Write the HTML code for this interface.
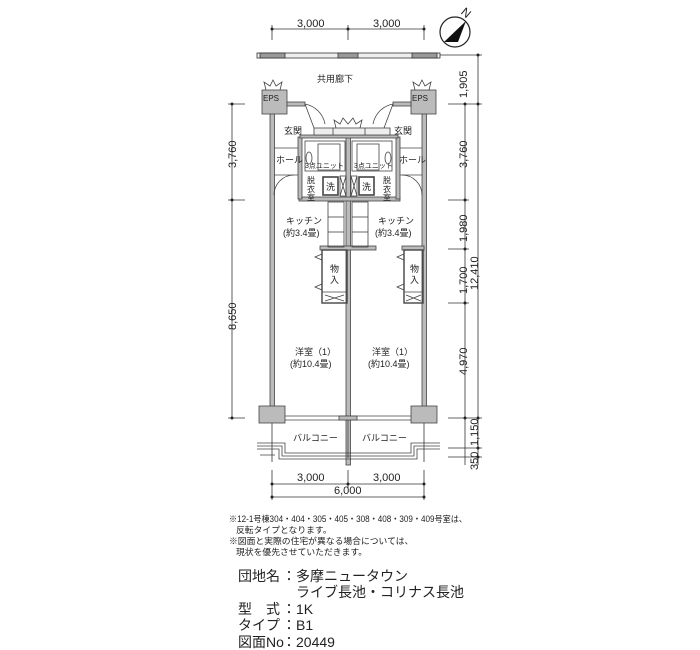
<!DOCTYPE html>
<html><head><meta charset="utf-8"><style>
html,body{margin:0;padding:0;background:#fff;}
svg{display:block;}
text{font-family:"Liberation Sans","Noto Sans CJK JP",sans-serif;fill:#222;}
</style></head><body>
<svg width="700" height="650" viewBox="0 0 700 650" xmlns="http://www.w3.org/2000/svg">
<g stroke="#333" stroke-width="0.8" fill="none">
<line x1="272" y1="29" x2="424" y2="29"/>
<line x1="272" y1="25" x2="272" y2="40"/><line x1="348" y1="25" x2="348" y2="40"/><line x1="424" y1="25" x2="424" y2="40"/>
<rect x="257" y="53" width="183" height="5" fill="#eee"/>
<rect x="260" y="53" width="25" height="5" fill="#999"/><rect x="338" y="53" width="20" height="5" fill="#999"/><rect x="412" y="53" width="25" height="5" fill="#999"/>
<line x1="478" y1="55" x2="478" y2="465"/>
<line x1="465" y1="104" x2="465" y2="465"/>
<line x1="440" y1="55" x2="482" y2="55"/>
<line x1="448" y1="104" x2="482" y2="104"/>
<line x1="448" y1="200" x2="469" y2="200"/>
<line x1="448" y1="249" x2="469" y2="249"/>
<line x1="448" y1="303" x2="469" y2="303"/>
<line x1="448" y1="418" x2="482" y2="418"/>
<line x1="448" y1="448" x2="482" y2="448"/>
<line x1="448" y1="457" x2="482" y2="457"/>
<line x1="232" y1="104" x2="232" y2="418"/>
<line x1="228" y1="104" x2="245" y2="104"/><line x1="228" y1="200" x2="245" y2="200"/><line x1="228" y1="418" x2="245" y2="418"/>
<line x1="272" y1="484" x2="424" y2="484"/><line x1="272" y1="497" x2="424" y2="497"/>
<line x1="272" y1="470" x2="272" y2="500"/><line x1="348" y1="470" x2="348" y2="488"/><line x1="424" y1="470" x2="424" y2="500"/>
<line x1="272" y1="423" x2="272" y2="462"/><line x1="424" y1="423" x2="424" y2="462"/>
</g>
<g fill="#222">
<circle cx="232" cy="104" r="1.5"/><circle cx="232" cy="200" r="1.5"/><circle cx="232" cy="418" r="1.5"/>
<circle cx="465" cy="104" r="1.5"/><circle cx="465" cy="200" r="1.5"/><circle cx="465" cy="249" r="1.5"/><circle cx="465" cy="303" r="1.5"/><circle cx="465" cy="418" r="1.5"/><circle cx="478" cy="55" r="1.5"/><circle cx="478" cy="104" r="1.5"/><circle cx="478" cy="418" r="1.5"/><circle cx="478" cy="448" r="1.5"/><circle cx="478" cy="457" r="1.5"/>
<circle cx="272" cy="29" r="1.5"/><circle cx="348" cy="29" r="1.5"/><circle cx="424" cy="29" r="1.5"/>
<circle cx="272" cy="484" r="1.5"/><circle cx="348" cy="484" r="1.5"/><circle cx="424" cy="484" r="1.5"/><circle cx="272" cy="497" r="1.5"/><circle cx="424" cy="497" r="1.5"/>
</g>
<circle cx="455" cy="32" r="15" fill="#fff" stroke="#222" stroke-width="1.2"/>
<path d="M444 42 L466 21 L458 42 Z" fill="#111"/>
<text x="462" y="16" font-size="12" transform="rotate(40 465 12)">N</text>
<g fill="#bbb" stroke="#444" stroke-width="0.8">
<rect x="270" y="112" width="4.5" height="295"/>
<rect x="346" y="135" width="4.5" height="330"/>
<rect x="422" y="112" width="4.5" height="295"/>
<rect x="262" y="90" width="25" height="24"/>
<rect x="411" y="90" width="25" height="24"/>
<rect x="287" y="102" width="18" height="4"/>
<rect x="393" y="102" width="18" height="4"/>
<rect x="259" y="406" width="26" height="17"/>
<rect x="411" y="406" width="26" height="17"/>
<rect x="299" y="197" width="101" height="4"/>
<rect x="320" y="246" width="56" height="4"/>
<rect x="402" y="246" width="22" height="4"/>
<rect x="298" y="137" width="4" height="62"/>
<rect x="396" y="137" width="4" height="62"/>
<rect x="300" y="135" width="98" height="3"/>
</g>
<g fill="none" stroke="#444" stroke-width="0.8">
<rect x="314" y="128" width="76" height="7" fill="#eee"/>
<line x1="333" y1="128" x2="333" y2="135"/><line x1="365" y1="128" x2="365" y2="135"/>
<rect x="305" y="141" width="40" height="30"/><rect x="352" y="141" width="40" height="30"/>
<rect x="318" y="144" width="22" height="26"/><rect x="357" y="144" width="22" height="26"/>
<ellipse cx="309" cy="158" rx="3" ry="6"/><ellipse cx="388" cy="158" rx="3" ry="6"/>
<rect x="323" y="177" width="15" height="18" stroke-width="1.6"/><rect x="359" y="177" width="15" height="18" stroke-width="1.6"/>
<rect x="340" y="176" width="6" height="20"/><rect x="351" y="176" width="6" height="20"/>
<path d="M340 176 L346 196 M346 176 L340 196 M351 176 L357 196 M357 176 L351 196"/>
<line x1="274" y1="148" x2="298" y2="148"/><line x1="400" y1="148" x2="422" y2="148"/>
<line x1="274" y1="175" x2="298" y2="175"/><line x1="400" y1="175" x2="422" y2="175"/>
<path d="M274 195 A20 20 0 0 1 294 175"/><path d="M422 195 A20 20 0 0 0 402 175"/>
<path d="M305 104 L314 128 M305 104 A25 25 0 0 1 325 124"/><path d="M393 104 L384 128 M393 104 A25 25 0 0 0 373 124"/>
<rect x="328" y="202" width="16" height="45"/><rect x="352" y="202" width="16" height="45"/>
<line x1="328" y1="217" x2="344" y2="217"/><line x1="328" y1="232" x2="344" y2="232"/><line x1="352" y1="217" x2="368" y2="217"/><line x1="352" y1="232" x2="368" y2="232"/>
<rect x="322" y="250" width="25" height="53" stroke-width="1.4"/><rect x="404" y="250" width="19" height="53" stroke-width="1.4"/>
<line x1="322" y1="292" x2="347" y2="292"/><line x1="404" y1="292" x2="423" y2="292"/>
<path d="M325 295 L344 301 M344 295 L325 301 M406 295 L421 301 M421 295 L406 301"/>
<path d="M322 254 L315 257 L322 260 M322 284 L315 287 L322 290 M404 254 L397 257 L404 260 M404 284 L397 287 L404 290"/>
<line x1="285" y1="416" x2="411" y2="416"/><line x1="285" y1="420" x2="411" y2="420"/>
<rect x="339" y="416" width="18" height="4" fill="#bbb"/>
<path d="M257 443 H285 V453 H411 V443 H440 M257 446 H282 V456 H414 V446 H440 M257 449 H279 V459 H417 V449 H440 M260 455 H275"/>
<line x1="348" y1="420" x2="348" y2="458"/>
<path d="M266 90 L264 82 L270 86 L273 80 L276 86 L282 82 L280 90 M415 90 L413 82 L419 86 L422 80 L425 86 L431 82 L429 90"/>
<path d="M336 128 L334 120 L340 124 L343 118 L348 124 L353 118 L356 124 L362 120 L360 128"/>
</g>
<g font-size="9">
<text x="263" y="101" font-size="8">EPS</text><text x="412" y="101" font-size="8">EPS</text>
<text x="317" y="82">共用廊下</text>
<text x="284" y="134">玄関</text><text x="394" y="134">玄関</text>
<text x="276" y="163">ホール</text><text x="399" y="163">ホール</text>
<text x="305" y="168" font-size="7">3点ユニット</text><text x="354" y="168" font-size="7">3点ユニット</text>
<text x="326" y="190">洗</text><text x="362" y="190">洗</text>
<text x="307" y="183" font-size="8">脱</text><text x="307" y="192" font-size="8">衣</text><text x="307" y="200" font-size="8">室</text>
<text x="383" y="183" font-size="8">脱</text><text x="383" y="192" font-size="8">衣</text><text x="383" y="200" font-size="8">室</text>
<text x="286" y="224">キッチン</text><text x="283" y="236">(約3.4畳)</text>
<text x="378" y="224">キッチン</text><text x="375" y="236">(約3.4畳)</text>
<text x="330" y="272">物</text><text x="330" y="283">入</text><text x="410" y="272">物</text><text x="410" y="283">入</text>
<text x="295" y="355">洋室（1）</text><text x="290" y="367">(約10.4畳)</text>
<text x="372" y="355">洋室（1）</text><text x="368" y="367">(約10.4畳)</text>
<text x="293" y="441">バルコニー</text><text x="362" y="441">バルコニー</text>
</g>
<g font-size="11">
<text x="297" y="27">3,000</text><text x="373" y="27">3,000</text>
<text x="297" y="481">3,000</text><text x="373" y="481">3,000</text><text x="334" y="494">6,000</text>
<text transform="translate(236 168) rotate(-90)">3,760</text>
<text transform="translate(236 330) rotate(-90)">8,650</text>
<text transform="translate(467 98) rotate(-90)">1,905</text>
<text transform="translate(467 168) rotate(-90)">3,760</text>
<text transform="translate(467 242) rotate(-90)">1,980</text>
<text transform="translate(467 294) rotate(-90)">1,700</text>
<text transform="translate(478 290) rotate(-90)">12,410</text>
<text transform="translate(467 375) rotate(-90)">4,970</text>
<text transform="translate(478 446) rotate(-90)">1,150</text>
<text transform="translate(478 470) rotate(-90)">350</text>
</g>
<g font-size="8.8">
<text x="229" y="522" textLength="238" lengthAdjust="spacingAndGlyphs">※12-1号棟304・404・305・405・308・408・309・409号室は、</text>
<text x="236" y="533">反転タイプとなります。</text>
<text x="229" y="544">※図面と実際の住宅が異なる場合については、</text>
<text x="236" y="555">現状を優先させていただきます。</text>
</g>
<g font-size="14">
<text x="238" y="581">団地名</text><text x="282" y="581">：</text><text x="296" y="581">多摩ニュータウン</text>
<text x="296" y="597">ライブ長池・コリナス長池</text>
<text x="238" y="614">型</text><text x="266" y="614">式</text><text x="282" y="614">：</text><text x="296" y="614">1K</text>
<text x="238" y="630">タイプ</text><text x="282" y="630">：</text><text x="296" y="630">B1</text>
<text x="238" y="647">図面No</text><text x="282" y="647">：</text><text x="296" y="647">20449</text>
</g>
</svg>
</body></html>
